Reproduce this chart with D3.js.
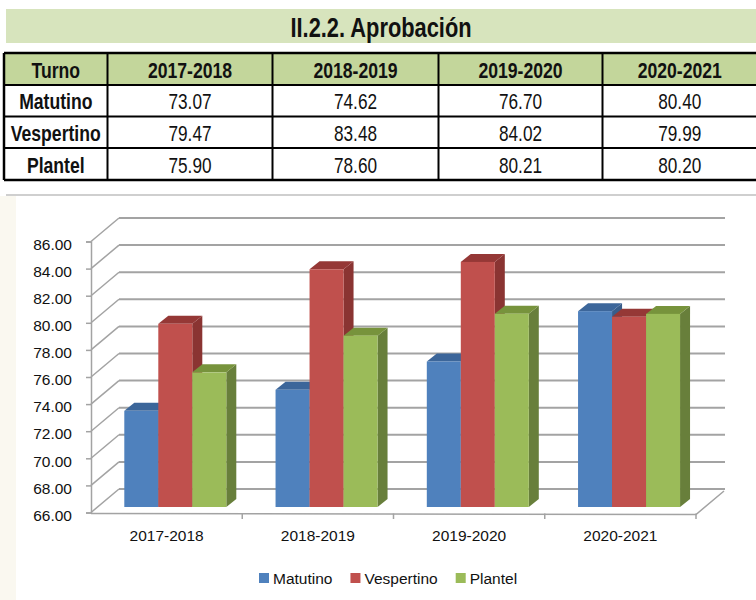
<!doctype html>
<html lang="es">
<head>
<meta charset="UTF-8">
<title>II.2.2. Aprobación</title>
<script src="https://d3js.org/d3.v7.min.js"></script>
<style>
  body { margin: 0; background: #fff; }
  svg { display: block; }
  svg text { font-family: "Liberation Sans", Arial, sans-serif; }
</style>
</head>
<body>
<script>
  // datos
  var categories = ['2017-2018', '2018-2019', '2019-2020', '2020-2021'];
  var series = ['Matutino', 'Vespertino', 'Plantel'];
  var matutino = [73.07, 74.62, 76.70, 80.40];
  var vespertino = [79.47, 83.48, 84.02, 79.99];
  var plantel = [75.90, 78.60, 80.21, 80.20];
  var yTicks = [66, 68, 70, 72, 74, 76, 78, 80, 82, 84, 86];

  var values = [matutino, vespertino, plantel];

  var width = 756, height = 600;

  var svg = d3.select('body').append('svg')
    .attr('width', width)
    .attr('height', height);

  // texto "angosto" (no hay Arial Narrow, se comprime en x)
  function narrow(parent, x, y, str, size, bold, sx) {
    return parent.append('text')
      .attr('transform', 'translate(' + x + ',' + y + ') scale(' + sx + ',1)')
      .attr('text-anchor', 'middle')
      .attr('font-size', size)
      .attr('font-weight', bold ? 'bold' : 'normal')
      .attr('fill', '#111')
      .text(str);
  }

  // fondo (marca de agua tenue)
  svg.append('rect').attr('x', 0).attr('y', 196).attr('width', 16).attr('height', 404).attr('fill', '#faf8f0');

  // ---- titulo ----
  svg.append('rect')
    .attr('x', 6).attr('y', 9).attr('width', 750).attr('height', 34)
    .attr('fill', '#d7e4bd');
  narrow(svg, 381, 37, 'II.2.2. Aprobación', 28, true, 0.78);

  // ---- tabla ----
  var colEdges = [4, 107.5, 272.5, 438.5, 602.5, 757];
  var rowEdges = [53, 85, 116.5, 148, 180];
  var header = ['Turno'].concat(categories);

  var table = svg.append('g');

  table.append('rect')
    .attr('x', colEdges[0]).attr('y', rowEdges[0])
    .attr('width', colEdges[5] - colEdges[0]).attr('height', rowEdges[1] - rowEdges[0])
    .attr('fill', '#c3d69b');

  header.forEach(function(h, i){
    narrow(table, (colEdges[i] + colEdges[i+1]) / 2, (rowEdges[0] + rowEdges[1]) / 2 + 8.5, h, 22, true, 0.8);
  });

  series.forEach(function(s, r){
    var yc = (rowEdges[r+1] + rowEdges[r+2]) / 2 + 8.5;
    narrow(table, (colEdges[0] + colEdges[1]) / 2, yc, s, 22, true, 0.8);
    values[r].forEach(function(v, c){
      narrow(table, (colEdges[c+1] + colEdges[c+2]) / 2, yc, v.toFixed(2), 21.5, false, 0.8);
    });
  });

  rowEdges.forEach(function(y, i){
    table.append('line')
      .attr('x1', colEdges[0]).attr('x2', 756)
      .attr('y1', y).attr('y2', y)
      .attr('stroke', '#000').attr('stroke-width', (i == 0 || i == 4) ? 2.5 : 2);
  });
  colEdges.slice(0, 5).forEach(function(x, i){
    table.append('line')
      .attr('x1', x).attr('x2', x)
      .attr('y1', rowEdges[0]).attr('y2', rowEdges[4])
      .attr('stroke', '#000').attr('stroke-width', i == 0 ? 2.5 : 2);
  });

  // ---- grafica 3D ----
  var chart = svg.append('g');

  chart.append('line')
    .attr('x1', 6).attr('x2', 756).attr('y1', 195).attr('y2', 195)
    .attr('stroke', '#bfbfbf').attr('stroke-width', 1.5);

  var dx = 28, dy = -23.5;    // profundidad de la pared
  var bdx = 10, bdy = -8;     // profundidad de cada barra

  var x = d3.scaleBand().domain(categories).range([91, 696]);
  var xs = d3.scaleBand().domain(series).range([33.3, 135.3]);
  var y = d3.scaleLinear().domain([66, 86]).range([512.5, 241.5]);
  var yBar = d3.scaleLinear().domain([66, 86]).range([507, 235]);

  var color = d3.scaleOrdinal().domain(series).range(['#4f81bd', '#c0504d', '#9bbb59']);
  var sideColor = d3.scaleOrdinal().domain(series).range(['#385d8a', '#8a3432', '#687f3b']);
  var topColor = d3.scaleOrdinal().domain(series).range(['#3c669a', '#953836', '#77933c']);

  var gridColor = '#a3a3a3';

  // lineas de la pared del fondo
  chart.append('g').selectAll('line')
    .data(yTicks)
    .enter().append('line')
    .attr('x1', 91 + dx).attr('x2', 696 + dx + 1)
    .attr('y1', function(d){ return y(d) + dy; })
    .attr('y2', function(d){ return y(d) + dy; })
    .attr('stroke', gridColor).attr('stroke-width', 2);

  // pared izquierda
  chart.append('g').selectAll('line')
    .data(yTicks)
    .enter().append('line')
    .attr('x1', 91).attr('x2', 91 + dx)
    .attr('y1', function(d){ return y(d); })
    .attr('y2', function(d){ return y(d) + dy; })
    .attr('stroke', gridColor).attr('stroke-width', 1.5);

  // piso
  chart.append('path')
    .attr('d', d3.line()([[91, 513.5], [696, 514.5], [696 + dx, 514.5 + dy]]))
    .attr('fill', 'none')
    .attr('stroke', gridColor).attr('stroke-width', 1.5);

  // marcas del eje x en los limites de categoria
  chart.append('g').selectAll('line')
    .data(categories)
    .enter().append('line')
    .attr('x1', function(d){ return x(d) + x.bandwidth(); })
    .attr('x2', function(d){ return x(d) + x.bandwidth(); })
    .attr('y1', 513.5).attr('y2', 519)
    .attr('stroke', gridColor).attr('stroke-width', 1.5);

  // eje y
  var yAxis = chart.append('g')
    .attr('transform', 'translate(91,0)')
    .call(d3.axisLeft(y).tickValues(yTicks).tickFormat(d3.format('.2f')).tickSize(5).tickPadding(14));
  yAxis.select('.domain').attr('stroke', gridColor).attr('stroke-width', 1.5);
  yAxis.selectAll('.tick line').attr('stroke', gridColor).attr('stroke-width', 1.5);
  yAxis.selectAll('text')
    .attr('font-size', 15.5).attr('fill', '#111').attr('dy', '0.5em')
    .style('font-family', '"Liberation Sans", Arial, sans-serif');

  // barras
  var bars = [];
  categories.forEach(function(c, i){
    series.forEach(function(s, j){
      bars.push({cat: c, ser: s, val: values[j][i]});
    });
  });

  var barG = chart.append('g').selectAll('g')
    .data(bars)
    .enter().append('g');

  barG.each(function(d){
    var g = d3.select(this);
    var x0 = x(d.cat) + xs(d.ser);
    var x1 = x0 + xs.bandwidth();
    var yt = yBar(d.val);
    var yb = yBar(66);
    // lado
    g.append('path')
      .attr('d', d3.line()([[x1, yb], [x1 + bdx, yb + bdy], [x1 + bdx, yt + bdy], [x1, yt]]) + 'Z')
      .attr('fill', sideColor(d.ser));
    // tapa
    g.append('path')
      .attr('d', d3.line()([[x0, yt], [x0 + bdx, yt + bdy], [x1 + bdx, yt + bdy], [x1, yt]]) + 'Z')
      .attr('fill', topColor(d.ser));
    // frente
    g.append('rect')
      .attr('x', x0).attr('y', yt)
      .attr('width', xs.bandwidth()).attr('height', yb - yt)
      .attr('fill', color(d.ser));
  });

  // etiquetas eje x
  var xAxis = chart.append('g')
    .attr('transform', 'translate(0,513.5)')
    .call(d3.axisBottom(x).tickSize(0).tickPadding(16));
  xAxis.select('.domain').remove();
  xAxis.selectAll('text')
    .attr('font-size', 15.5).attr('fill', '#111')
    .style('font-family', '"Liberation Sans", Arial, sans-serif');

  // leyenda
  var legend = chart.append('g').attr('transform', 'translate(259,573)');
  var lx = 0;
  series.forEach(function(s){
    var item = legend.append('g').attr('transform', 'translate(' + lx + ',0)');
    item.append('rect').attr('width', 10).attr('height', 10).attr('fill', color(s));
    var t = item.append('text')
      .attr('x', 14).attr('y', 11)
      .attr('font-size', 15.5).attr('fill', '#111')
      .text(s);
    lx += 14 + t.node().getComputedTextLength() + 18;
  });
</script>
</body>
</html>
